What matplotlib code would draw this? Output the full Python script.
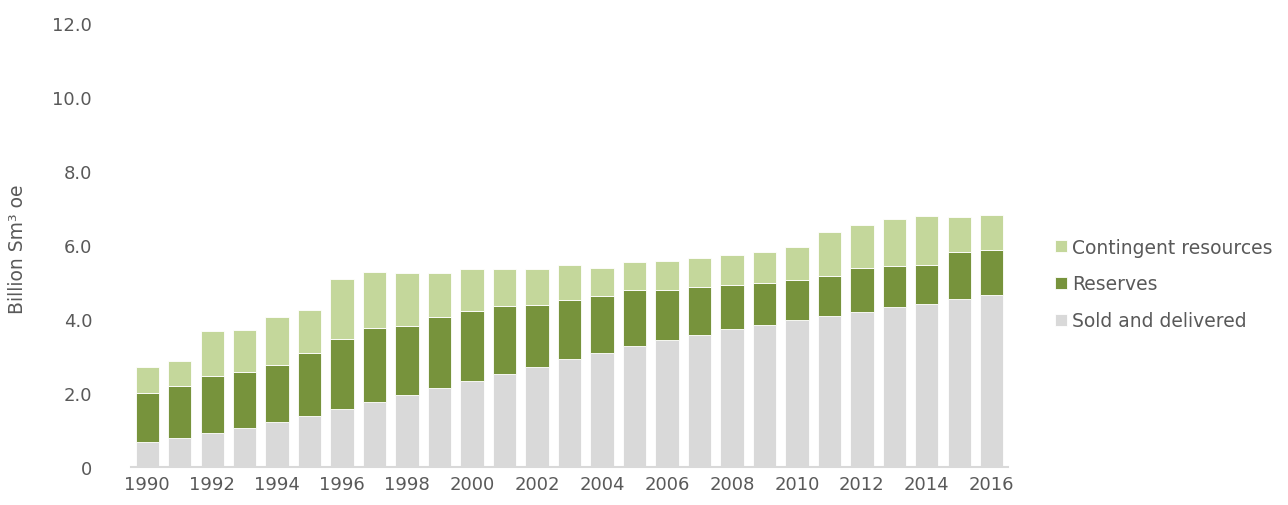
import numpy as np
import matplotlib
matplotlib.use('Agg')
import matplotlib.pyplot as plt

# Volumes per year, billion Sm3 oe
years = list(range(1990, 2017))
sold = [0.68, 0.78, 0.92, 1.05, 1.22, 1.38, 1.56, 1.76, 1.94, 2.13,
        2.32, 2.52, 2.71, 2.91, 3.09, 3.26, 3.42, 3.57, 3.72, 3.85,
        3.97, 4.09, 4.20, 4.32, 4.41, 4.53, 4.65]
reserves = [1.31, 1.41, 1.55, 1.52, 1.53, 1.71, 1.89, 2.01, 1.88, 1.92,
            1.90, 1.84, 1.67, 1.61, 1.54, 1.53, 1.37, 1.30, 1.19, 1.11,
            1.08, 1.08, 1.19, 1.10, 1.04, 1.27, 1.22]
contingent = [0.71, 0.67, 1.20, 1.14, 1.30, 1.16, 1.62, 1.50, 1.41, 1.20,
              1.13, 0.98, 0.96, 0.93, 0.75, 0.74, 0.79, 0.77, 0.81, 0.86,
              0.90, 1.17, 1.15, 1.28, 1.33, 0.96, 0.95]

GREY_TXT = '#595959'
C_SOLD = '#D9D9D9'
C_RES = '#77933C'
C_CONT = '#C4D79B'

plt.rcParams['font.family'] = ['DejaVu Sans']
plt.rcParams['font.size'] = 13

fig = plt.figure(figsize=(12.88, 5.06), dpi=100)
ax = fig.add_axes([131 / 1288, 1 - 468 / 506, (1008 - 131) / 1288, (468 - 24) / 506])

x = np.arange(len(years))
sold_a = np.array(sold)
res_a = np.array(reserves)
cont_a = np.array(contingent)
w = 0.72
kw = dict(width=w, edgecolor='white', linewidth=0.6)
b1 = ax.bar(x, sold_a, color=C_SOLD, label='Sold and delivered', **kw)
b2 = ax.bar(x, res_a, bottom=sold_a, color=C_RES, label='Reserves', **kw)
b3 = ax.bar(x, cont_a, bottom=sold_a + res_a, color=C_CONT, label='Contingent resources', **kw)

ax.set_xlim(-0.5, len(years) - 0.5)
ax.set_ylim(0, 12)
ax.set_yticks(np.arange(0, 13, 2))
ax.set_yticklabels(['0'] + [f'{v:.1f}' for v in np.arange(2, 13, 2)])
ax.set_xticks(x[::2])
ax.set_xticklabels([str(y) for y in years[::2]])
ax.tick_params(axis='y', length=0, pad=28, colors=GREY_TXT)
ax.tick_params(axis='x', length=0, pad=6, colors=GREY_TXT)

for s in ['top', 'right', 'left']:
    ax.spines[s].set_visible(False)
ax.spines['bottom'].set_color('#D9D9D9')
ax.spines['bottom'].set_linewidth(1.5)

fig.text(18 / 1288, 1 - 249 / 506, 'Billion Sm³ oe', rotation=90, va='center', ha='center',
         color=GREY_TXT, fontsize=13.5)

ax.legend(handles=[b3, b2, b1], loc='center left', frameon=False,
          bbox_to_anchor=(1046 / 1288, 1 - 285 / 506), bbox_transform=fig.transFigure,
          handlelength=0.6, handleheight=0.6, handletextpad=0.3,
          labelspacing=0.95, borderpad=0, labelcolor=GREY_TXT, fontsize=13.5)

fig.savefig('out.png', dpi=100, facecolor='white')
